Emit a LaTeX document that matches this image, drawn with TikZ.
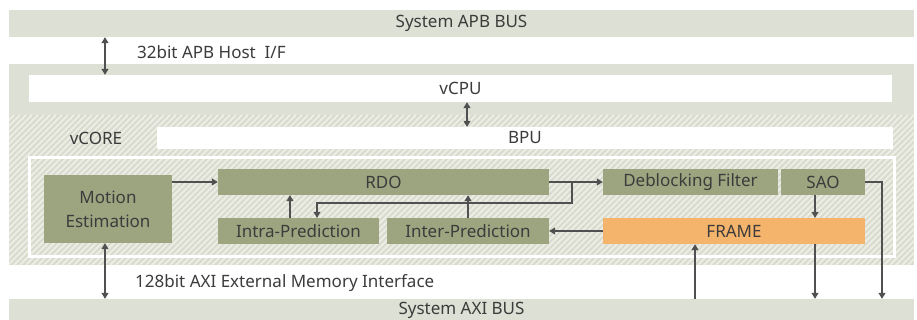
\documentclass[tikz,border=0pt]{standalone}
\usepackage{fontspec}
\setmainfont{Noto Sans}
\usetikzlibrary{arrows.meta}
\definecolor{busgray}{HTML}{DDE0D4}
\definecolor{hatchbase}{HTML}{D8DBCD}
\definecolor{hatchline}{HTML}{ECEEE6}
\definecolor{blockgreen}{HTML}{9CA580}
\definecolor{frameorange}{HTML}{F5B46B}
\definecolor{wiregray}{HTML}{505050}
\definecolor{txtgray}{HTML}{3C3C3C}
\tikzset{
  every node/.style={font=\fontsize{17}{21}\selectfont, text=txtgray},
  bus/.style={fill=busgray, inner sep=0pt},
  bar/.style={fill=white, inner sep=0pt},
  block/.style={fill=blockgreen, inner sep=0pt, align=center},
  framebox/.style={fill=frameorange, inner sep=0pt},
  label/.style={inner sep=0pt, anchor=west},
  hatch/.style={draw=hatchline, line width=2pt},
  conn/.style={draw=wiregray, line width=1.1pt, -{Triangle[length=6pt,width=7pt]}},
  link/.style={draw=wiregray, line width=1.1pt},
  dual/.style={draw=wiregray, line width=1.1pt, {Triangle[length=6pt,width=7pt]}-{Triangle[length=6pt,width=7pt]}},
}
\begin{document}
\begin{tikzpicture}[x=1pt, y=-1pt]
  \useasboundingbox (0,0) rectangle (917,320);
  \fill[white] (0,0) rectangle (917,320);

  % host side background and vCORE hatched region
  \fill[busgray] (9,64) rectangle (914,115);
  \fill[hatchbase] (9,115) rectangle (914,265);
  \begin{scope}
    \clip (9,115) rectangle (914,265);
    \foreach \i in {-160,-154,...,920}
      \draw[hatch] (\i,265) -- ++(150,-150);
  \end{scope}
  \draw[white, line width=3pt] (29,158) rectangle (894,256);

  % buses and bars
  \node[bus, minimum width=905pt, minimum height=27pt] (apb) at (461.5,23.5) {System APB BUS};
  \node[bus, minimum width=905pt, minimum height=22pt] (axi) at (461.5,310) {System AXI BUS};
  \node[bar, minimum width=863pt, minimum height=27pt] (vcpu) at (460.5,88.5) {vCPU};
  \node[bar, minimum width=736pt, minimum height=22pt] (bpu) at (525,138) {BPU};
  \node[inner sep=0pt] (vcore) at (96,138) {vCORE};

  % processing blocks
  \node[block, minimum width=128pt, minimum height=68pt] (me) at (108,209) {Motion\\[3pt]Estimation};
  \node[block, minimum width=331pt, minimum height=26pt] (rdo) at (383.5,182) {RDO};
  \node[block, minimum width=161pt, minimum height=26pt] (intra) at (298.5,231) {Intra-Prediction};
  \node[block, minimum width=162pt, minimum height=26pt] (inter) at (468,231) {Inter-Prediction};
  \node[block, minimum width=175pt, minimum height=26pt] (dbf) at (690.5,182) {Deblocking Filter};
  \node[block, minimum width=84pt, minimum height=26pt] (sao) at (823,182) {SAO};
  \node[framebox, minimum width=262pt, minimum height=26pt] (frame) at (734,231) {FRAME};

  % interface labels
  \node[label] (apbif) at (137,52) {32bit APB Host\ \ I/F};
  \node[label] (axiif) at (135,283) {128bit AXI External Memory Interface};

  % reference columns for vertical wires
  \coordinate (lx) at (105,0);
  \coordinate (cx) at (467,0);
  \coordinate (ia) at (290,0);
  \coordinate (fb) at (317,203);
  \coordinate (sp) at (572,182);
  \coordinate (sd) at (815,0);
  \coordinate (fu) at (695,0);
  \coordinate (sr) at (882,0);

  % bus interfaces
  \draw[dual] (lx |- apb.south) -- (lx |- vcpu.north);
  \draw[dual] (cx |- vcpu.south) -- (cx |- bpu.north);
  \draw[dual] (lx |- me.south) -- (lx |- axi.north);

  % data flow
  \draw[conn] (me.east |- rdo.west) -- (rdo.west);
  \draw[conn] (ia |- intra.north) -- (ia |- rdo.south);
  \draw[conn] (inter.north) -- (inter.north |- rdo.south);
  \draw[link] (rdo.east) -- (sp);
  \draw[conn] (sp) -- (dbf.west);
  \draw[conn] (sp) |- (fb) -- (fb |- intra.north);
  \draw[conn] (sd |- sao.south) -- (sd |- frame.north);
  \draw[conn] (frame.west) -- (inter.east);
  \draw[conn] (sao.east) -| (sr |- axi.north);
  \draw[conn] (sd |- frame.south) -- (sd |- axi.north);
  \draw[conn] (fu |- axi.north) -- (fu |- frame.south);
\end{tikzpicture}
\end{document}
